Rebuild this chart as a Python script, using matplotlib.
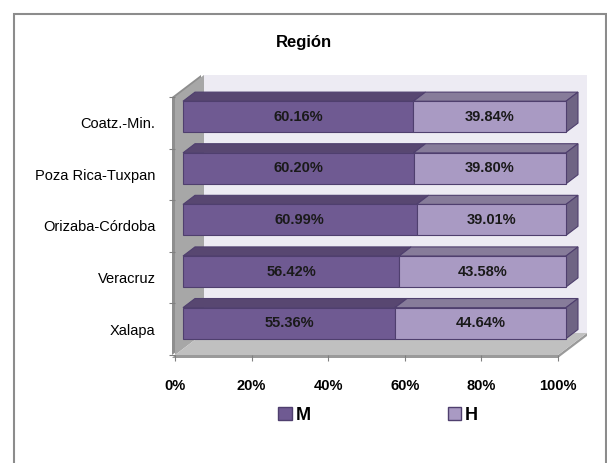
import numpy as np
import matplotlib
matplotlib.use('Agg')
import matplotlib.pyplot as plt
from matplotlib.patches import Polygon, Rectangle, Patch
from matplotlib.transforms import offset_copy, IdentityTransform

plt.rcParams['font.family'] = ['Liberation Sans', 'DejaVu Sans']

# data (top to bottom, as in the picture)
regiones = ['Coatz.-Min.', 'Poza Rica-Tuxpan', 'Orizaba-Córdoba', 'Veracruz', 'Xalapa']
M = [60.16, 60.20, 60.99, 56.42, 55.36]
H = [39.84, 39.80, 39.01, 43.58, 44.64]
xticks = [0, 20, 40, 60, 80, 100]

# colours
c_M, c_M_top = '#6f5a92', '#584771'
c_H, c_H_top, c_H_end = '#a99ac3', '#877c9a', '#6f6484'
c_edge = '#4f3f6e'

# pseudo 3d geometry (pixels)
depth = 29          # wall depth
slope = 0.76        # vertical shift per pixel of depth
d_front, d_back = 8, 20
bh = 0.6

fig = plt.figure(figsize=(6.07, 4.63), dpi=100)
W, Hh = 607, 463
ax = fig.add_axes([175 / W, 1 - 355 / Hh, 383 / W, 258 / Hh])
n = len(regiones)
ax.set_xlim(0, 100)
ax.set_ylim(n - 0.5, -0.5)
ax.set_facecolor('none')
for s in ax.spines.values():
    s.set_visible(False)


def P(x, y, d, sx=0, sy=0):
    px, py = ax.transData.transform((x, y))
    return (px + d + sx, py + slope * d + sy)


def face(pts, color, z, ec='none', lw=0):
    ax.add_patch(Polygon(pts, closed=True, facecolor=color, edgecolor=ec, clip_on=False,
                         linewidth=lw, transform=IdentityTransform(), zorder=z))


bot, top = n - 0.5, -0.5
# back wall
face([P(0, top, depth), P(100, top, depth), P(100, bot, depth), P(0, bot, depth)], '#edebf3', 0)
# left wall (slab)
face([P(0, top, 0, -3), P(0, bot, 0, -3), P(0, bot, depth, -3), P(0, top, depth, -3)], '#8e8e8e', 0.5)
face([P(0, top, 0), P(0, bot, 0), P(0, bot, depth), P(0, top, depth)], '#a7a7a7', 0.6)
# floor (slab)
face([P(0, bot, 0, -3, -3), P(100, bot, 0, 0, -3), P(100, bot, depth, 0, -3), P(100, bot, depth),
      P(100, bot, 0), P(0, bot, 0)], '#9a9a9a', 0.7)
face([P(0, bot, 0), P(100, bot, 0), P(100, bot, depth), P(0, bot, depth)], '#c0c0c0', 0.8)

# bars, back faces first
ypos = np.arange(n)
for i in range(n):
    y0 = ypos[i] - bh / 2
    m, h = M[i], H[i]
    z = 2 + i * 0.1
    face([P(0, y0, d_front), P(m, y0, d_front), P(m, y0, d_back), P(0, y0, d_back)],
         c_M_top, z, c_edge, 0.8)
    face([P(m, y0, d_front), P(m + h, y0, d_front), P(m + h, y0, d_back), P(m, y0, d_back)],
         c_H_top, z, c_edge, 0.8)
    y1 = ypos[i] + bh / 2
    face([P(m + h, y0, d_front), P(m + h, y1, d_front), P(m + h, y1, d_back), P(m + h, y0, d_back)],
         c_H_end, z, c_edge, 0.8)

tr = offset_copy(ax.transData, fig=fig, x=d_front, y=slope * d_front, units='dots')
ax.barh(ypos, M, height=bh, color=c_M, edgecolor=c_edge, linewidth=0.8, transform=tr,
        zorder=3, clip_on=False)
ax.barh(ypos, H, left=M, height=bh, color=c_H, edgecolor=c_edge, linewidth=0.8, transform=tr,
        zorder=3, clip_on=False)
for i in range(n):
    ax.text(M[i] / 2, ypos[i], f'{M[i]:.2f}%', transform=tr, ha='center', va='center',
            fontsize=10.5, fontweight='bold', color='#1a1a1a', zorder=5)
    ax.text(M[i] + H[i] / 2, ypos[i], f'{H[i]:.2f}%', transform=tr, ha='center', va='center',
            fontsize=10.5, fontweight='bold', color='#1a1a1a', zorder=5)

ax.set_xlim(0, 100)
ax.set_ylim(n - 0.5, -0.5)

# axes ticks
ax.set_xticks(xticks, labels=[f'{v}%' for v in xticks])
ax.tick_params(axis='x', direction='out', length=4, color='#808080', pad=13, labelsize=10.5)
for lbl in ax.get_xticklabels():
    lbl.set_fontweight('bold')
ax.set_yticks(np.arange(n + 1) - 0.5, labels=[''] * (n + 1))
ax.set_yticks(ypos, labels=regiones, minor=True)
ax.tick_params(axis='y', which='major', direction='out', length=4, color='#808080')
ax.tick_params(axis='y', which='minor', length=0, pad=14, labelsize=10.5)

fig.text(304 / W, 1 - 42 / Hh, 'Región', ha='center', va='center', fontsize=12, fontweight='bold')

handles = [Patch(facecolor=c_M, edgecolor=c_edge, label='M'),
           Patch(facecolor=c_H, edgecolor=c_edge, label='H')]
fig.legend(handles=handles, loc='center', bbox_to_anchor=(378 / W, 1 - 415 / Hh), ncol=2,
           frameon=False, handlelength=0.75, handleheight=0.75, handletextpad=0.2,
           columnspacing=7.6, prop={'size': 13, 'weight': 'bold'})

# outer frame
fig.patches.append(Rectangle((14 / W, -0.1), (606 - 14) / W, 1.1 - 14 / Hh, transform=fig.transFigure,
                             fill=False, edgecolor='#8c8c8c', linewidth=1.5))

fig.savefig('out.png', dpi=100)
